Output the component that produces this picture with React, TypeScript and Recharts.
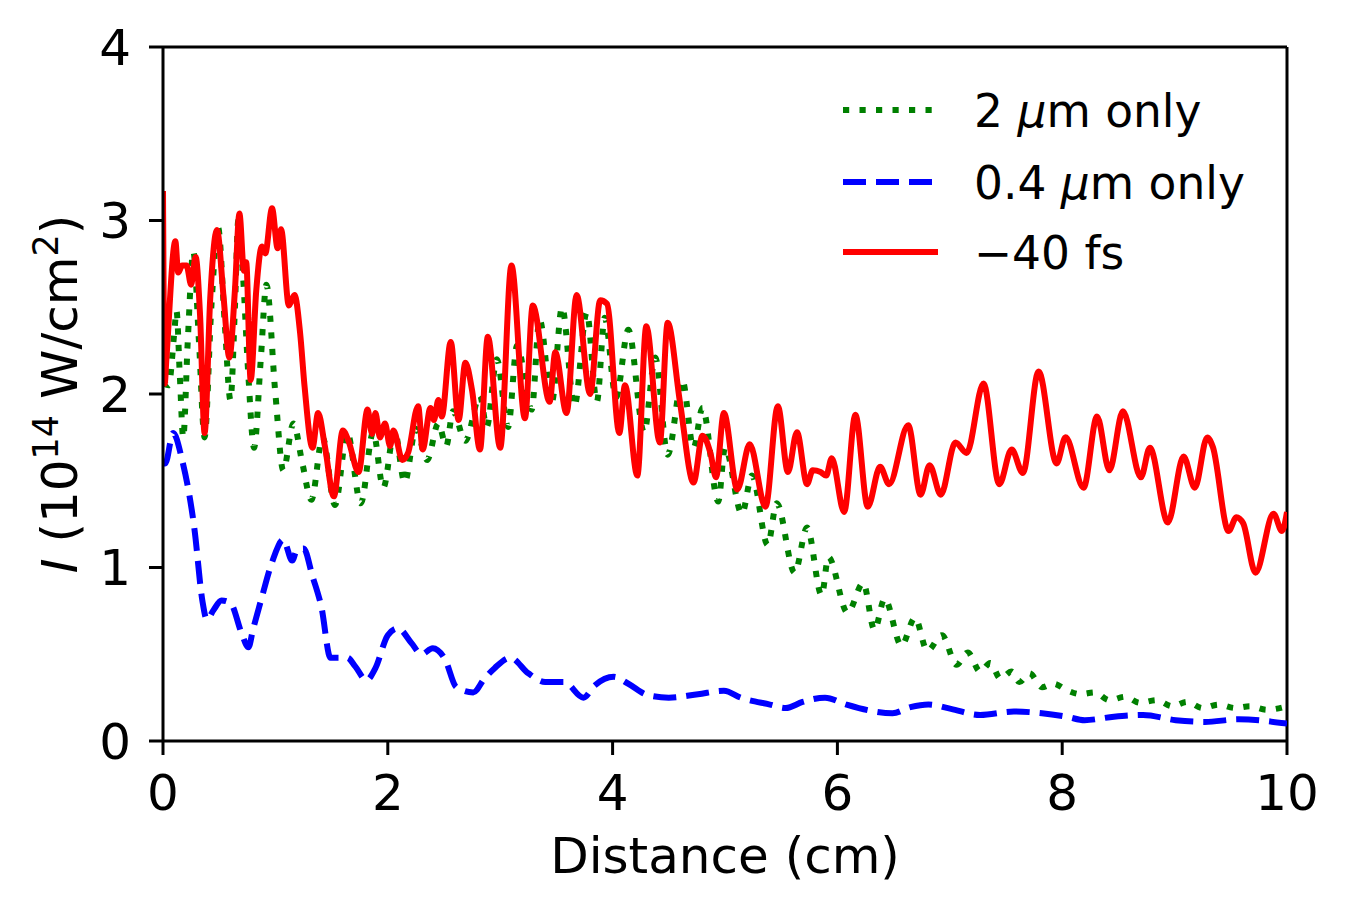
import React from "react";
import { Legend, Line, LineChart, ReferenceLine, XAxis, YAxis } from "recharts";

// distance (cm) / intensity (1e14 W/cm^2)
const redX = [
  0, 0.015, 0.03, 0.11, 0.135, 0.17, 0.21, 0.25, 0.29, 0.33, 0.37, 0.42, 0.48, 0.54, 0.59, 0.64, 0.68, 0.72,
  0.74, 0.78, 0.83, 0.88, 0.91, 0.97, 1.02, 1.05, 1.12, 1.17, 1.22, 1.26, 1.33, 1.38, 1.44, 1.52, 1.6, 1.65,
  1.74, 1.82, 1.86, 1.89, 1.93, 1.975, 2.02, 2.05, 2.13, 2.18, 2.27, 2.31, 2.38, 2.41, 2.45, 2.48, 2.56,
  2.63, 2.69, 2.75, 2.82, 2.89, 3.0, 3.1, 3.22, 3.29, 3.44, 3.49, 3.59, 3.68, 3.8, 3.89, 3.95, 4.06, 4.11,
  4.22, 4.3, 4.42, 4.49, 4.6, 4.72, 4.8, 4.87, 4.92, 4.99, 5.11, 5.22, 5.36, 5.47, 5.56, 5.64, 5.73, 5.78,
  5.85, 5.9, 5.95, 6.06, 6.16, 6.27, 6.38, 6.46, 6.63, 6.74, 6.82, 6.92, 7.05, 7.15, 7.3, 7.44, 7.55, 7.65,
  7.79, 7.95, 8.03, 8.19, 8.31, 8.42, 8.54, 8.7, 8.78, 8.94, 9.08, 9.18, 9.29, 9.34, 9.48, 9.55, 9.61, 9.72,
  9.88, 9.955, 10,
];
const redY = [
  3.17, 2.06, 2.2, 2.88, 2.7, 2.74, 2.74, 2.63, 2.79, 2.45, 1.775, 2.55, 2.945, 2.55, 2.21, 2.6, 3.04, 2.71,
  2.76, 2.08, 2.6, 2.85, 2.81, 3.07, 2.84, 2.95, 2.51, 2.57, 2.35, 2.04, 1.69, 1.89, 1.7, 1.41, 1.79, 1.73,
  1.55, 1.91, 1.77, 1.89, 1.75, 1.83, 1.7, 1.79, 1.62, 1.66, 1.93, 1.68, 1.92, 1.85, 1.965, 1.87, 2.3,
  1.85, 2.18, 2.02, 1.68, 2.33, 1.69, 2.74, 1.86, 2.51, 1.955, 2.24, 1.89, 2.57, 2.0, 2.54, 2.52, 1.775, 2.05,
  1.53, 2.39, 1.72, 2.41, 1.95, 1.49, 1.76, 1.66, 1.52, 1.89, 1.45, 1.71, 1.35, 1.93, 1.55, 1.78, 1.48, 1.56,
  1.55, 1.53, 1.63, 1.32, 1.88, 1.35, 1.58, 1.48, 1.82, 1.42, 1.59, 1.42, 1.72, 1.66, 2.06, 1.48, 1.68, 1.545,
  2.13, 1.6, 1.75, 1.46, 1.87, 1.56, 1.9, 1.52, 1.69, 1.26, 1.64, 1.46, 1.75, 1.695, 1.21, 1.29, 1.255, 0.97,
  1.31, 1.21, 1.32,
];

const greenX = [
  0, 0.05, 0.1, 0.12, 0.15, 0.18, 0.22, 0.27, 0.32, 0.37, 0.43, 0.49, 0.55, 0.6, 0.64, 0.67, 0.71, 0.76, 0.81,
  0.87, 0.92, 1.0, 1.07, 1.16, 1.24, 1.32, 1.42, 1.53, 1.64, 1.76, 1.87, 1.96, 2.06, 2.15, 2.25, 2.35, 2.45,
  2.52, 2.58, 2.69, 2.82, 2.88, 2.97, 3.07, 3.15, 3.28, 3.35, 3.46, 3.55, 3.66, 3.77, 3.86, 3.93, 4.03, 4.14,
  4.28, 4.38, 4.49, 4.62, 4.72, 4.8, 4.94, 5.0, 5.15, 5.24, 5.38, 5.46, 5.62, 5.73, 5.86, 5.92, 6.09, 6.23,
  6.33, 6.42, 6.57, 6.69, 6.8, 6.93, 7.06, 7.16, 7.27, 7.36, 7.45, 7.55, 7.62, 7.71, 7.82, 7.92, 8.05, 8.16,
  8.29, 8.42, 8.56, 8.69, 8.84, 8.98, 9.11, 9.25, 9.39, 9.54, 9.67, 9.82, 10,
];
const greenY = [
  2.06, 2.05, 2.35, 2.48, 2.1, 1.75, 2.3, 2.82, 2.3, 1.75, 2.5, 2.96, 2.4, 1.965, 2.5, 3.0, 2.7, 2.1, 1.69,
  2.2, 2.63, 2.0, 1.56, 1.83, 1.6, 1.39, 1.75, 1.36, 1.775, 1.37, 1.78, 1.46, 1.79, 1.49, 1.8, 1.62, 1.83,
  1.7, 1.9, 1.73, 1.99, 1.81, 2.2, 1.81, 2.28, 1.91, 2.43, 1.955, 2.5, 1.93, 2.47, 1.955, 2.44, 1.98, 2.37,
  1.78, 2.21, 1.65, 2.08, 1.69, 1.92, 1.38, 1.69, 1.31, 1.53, 1.13, 1.37, 0.97, 1.23, 0.84, 1.06, 0.74, 0.91,
  0.64, 0.82, 0.55, 0.71, 0.52, 0.61, 0.44, 0.51, 0.4, 0.45, 0.36, 0.4, 0.34, 0.39, 0.31, 0.33, 0.29, 0.27,
  0.28, 0.235, 0.255, 0.22, 0.235, 0.2, 0.225, 0.19, 0.21, 0.19, 0.2, 0.18, 0.2,
];

const blueX = [
  0, 0.02, 0.09, 0.17, 0.28, 0.35, 0.39, 0.45, 0.52, 0.6, 0.7, 0.76, 0.8, 0.88, 0.97, 1.07, 1.15, 1.19, 1.25,
  1.33, 1.41, 1.49, 1.64, 1.71, 1.81, 1.89, 2.0, 2.09, 2.21, 2.3, 2.4, 2.51, 2.61, 2.76, 2.86, 2.95, 3.09,
  3.25, 3.4, 3.57, 3.74, 3.84, 4.01, 4.14, 4.31, 4.5, 4.76, 4.99, 5.14, 5.4, 5.54, 5.69, 5.89, 6.08, 6.29,
  6.49, 6.65, 6.81, 7.01, 7.27, 7.57, 7.82, 8.04, 8.2, 8.46, 8.72, 9.01, 9.27, 9.57, 10,
];
const blueY = [
  1.6, 1.6, 1.775, 1.62, 1.22, 0.81, 0.7, 0.755, 0.81, 0.795, 0.62, 0.54, 0.64, 0.83, 1.03, 1.16, 1.04, 1.1,
  1.11, 0.95, 0.77, 0.48, 0.48, 0.43, 0.35, 0.42, 0.61, 0.65, 0.565, 0.5, 0.535, 0.47, 0.31, 0.28, 0.36, 0.42,
  0.48, 0.39, 0.34, 0.34, 0.25, 0.32, 0.37, 0.33, 0.265, 0.25, 0.27, 0.29, 0.25, 0.21, 0.19, 0.225, 0.25,
  0.21, 0.175, 0.16, 0.195, 0.21, 0.185, 0.15, 0.17, 0.16, 0.14, 0.12, 0.14, 0.15, 0.12, 0.11, 0.125, 0.1,
];

const xTicks = [0, 2, 4, 6, 8, 10];
const yTicks = [0, 1, 2, 3, 4];

const toPoints = (xs: number[], ys: number[]) => xs.map((x, i) => ({ x, y: ys[i] }));

const redData = toPoints(redX, redY);
const greenData = toPoints(greenX, greenY);
const blueData = toPoints(blueX, blueY);

const FONT = "DejaVu Sans";
const LW = 6;
const DOTTED = "6.2 10.3";
const DASHED = "23 10";

function LegendBox() {
  const rows = [
    { y: 35, color: "green", dash: DOTTED, label: <>2 <tspan fontStyle="italic">μ</tspan>m only</> },
    { y: 107, color: "blue", dash: DASHED, label: <>0.4 <tspan fontStyle="italic">μ</tspan>m only</> },
    { y: 177, color: "red", dash: undefined, label: <>{"\u221240 fs"}</> },
  ];
  return (
    <svg width={440} height={210}>
      {rows.map((r, i) => (
        <g key={i}>
          <line x1={8} x2={103} y1={r.y} y2={r.y} stroke={r.color} strokeWidth={LW} strokeDasharray={r.dash} />
          <text x={139} y={r.y + 17} fontSize={45.5} fontFamily={FONT} fill="#000">
            {r.label}
          </text>
        </g>
      ))}
    </svg>
  );
}

function YLabel() {
  return (
    <text transform="translate(77, 394) rotate(-90)" textAnchor="middle" fontSize={50} fontFamily={FONT} fill="#000">
      <tspan fontStyle="italic">I</tspan>
      {" (10"}
      <tspan dy={-19} fontSize={35}>14</tspan>
      <tspan dy={19}>{" W/cm"}</tspan>
      <tspan dy={-19} fontSize={35}>2</tspan>
      <tspan dy={19}>)</tspan>
    </text>
  );
}

function XLabel() {
  return (
    <text x={725} y={873} textAnchor="middle" fontSize={50} fontFamily={FONT} fill="#000">
      Distance (cm)
    </text>
  );
}

export default function App() {
  const tick = { fill: "#000", fontSize: 50, fontFamily: FONT };
  const axisStroke = { stroke: "#000", strokeWidth: 3 };
  return (
    <div style={{ position: "absolute", left: 0, top: 0, width: 1349, height: 913, background: "#fff" }}>
      <LineChart width={1349} height={913} margin={{ top: 47, right: 62, bottom: 72, left: 63 }}>
        <XAxis
          type="number"
          dataKey="x"
          domain={[0, 10]}
          ticks={xTicks}
          allowDataOverflow
          height={100}
          tick={tick}
          tickSize={14}
          tickMargin={19}
          axisLine={axisStroke}
          tickLine={axisStroke}
          label={{ content: () => <XLabel /> }}
        />
        <YAxis
          type="number"
          dataKey="y"
          domain={[0, 4]}
          ticks={yTicks}
          allowDataOverflow
          width={100}
          tick={tick}
          tickSize={14}
          tickMargin={18}
          axisLine={axisStroke}
          tickLine={axisStroke}
          label={{ content: () => <YLabel /> }}
        />
        <ReferenceLine y={4} stroke="#000" strokeWidth={3} />
        <ReferenceLine x={10} stroke="#000" strokeWidth={3} />
        <Line
          data={greenData}
          dataKey="y"
          type="monotone"
          stroke="green"
          strokeWidth={LW}
          strokeDasharray={DOTTED}
          dot={false}
          activeDot={false}
          isAnimationActive={false}
        />
        <Line
          data={blueData}
          dataKey="y"
          type="monotone"
          stroke="blue"
          strokeWidth={LW}
          strokeDasharray={DASHED}
          dot={false}
          activeDot={false}
          isAnimationActive={false}
        />
        <Line
          data={redData}
          dataKey="y"
          type="monotone"
          stroke="red"
          strokeWidth={LW}
          dot={false}
          activeDot={false}
          isAnimationActive={false}
        />
        <Legend
          layout="vertical"
          align="center"
          verticalAlign="middle"
          content={() => <LegendBox />}
          wrapperStyle={{ left: 835, top: 75, width: 440, height: 210 }}
        />
      </LineChart>
    </div>
  );
}
